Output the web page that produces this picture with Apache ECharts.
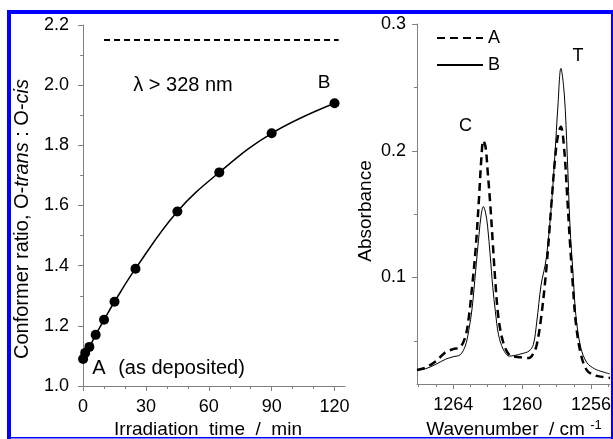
<!DOCTYPE html>
<html>
<head>
<meta charset="utf-8">
<script src="https://cdn.jsdelivr.net/npm/echarts@6/dist/echarts.min.js"></script>
<style>
  html, body { margin: 0; padding: 0; background: #fff; }
  #chart { width: 613px; height: 439px; }
</style>
</head>
<body>
<div id="chart"></div>
<script>
// ---- Left panel: conformer ratio vs. irradiation time ----
const irrTime = [0, 1, 3, 6, 10, 15, 25, 45, 65, 90, 120];
const ratio = [1.09, 1.11, 1.13, 1.17, 1.22, 1.28, 1.39, 1.58, 1.71, 1.84, 1.94];
const plateauRatio = 2.15;
const plateauTime = [10, 122];
const timeTicks = [0, 30, 60, 90, 120];
const timeMinorTicks = [10, 20, 40, 50, 70, 80, 100, 110];

// ---- Right panel: IR spectra, A (as deposited) and B (after irradiation) ----
const wavenumber = [1266.1, 1265.6, 1265.0, 1264.45, 1264.0, 1263.6, 1263.3, 1263.1, 1262.9, 1262.7,
  1262.5, 1262.37, 1262.25, 1262.12, 1262.0, 1261.85, 1261.7, 1261.55, 1261.37, 1261.1,
  1260.75, 1260.4, 1260.0, 1259.6, 1259.35, 1259.15, 1258.9, 1258.6, 1258.3, 1258.1,
  1257.92, 1257.75, 1257.55, 1257.38, 1257.22, 1257.05, 1256.88, 1256.6, 1256.25, 1255.8,
  1255.3, 1254.9];
const absA = [0.027, 0.029, 0.034, 0.041, 0.0435, 0.045, 0.053, 0.068, 0.093, 0.122,
  0.163, 0.193, 0.208, 0.203, 0.184, 0.158, 0.127, 0.096, 0.068, 0.049,
  0.039, 0.0375, 0.037, 0.0365, 0.040, 0.047, 0.068, 0.106, 0.158, 0.192,
  0.212, 0.219, 0.200, 0.163, 0.127, 0.093, 0.064, 0.040, 0.027, 0.023,
  0.0215, 0.0207];
const absB = [0.027, 0.028, 0.0316, 0.0355, 0.0375, 0.039, 0.046, 0.058, 0.076, 0.105,
  0.134, 0.150, 0.156, 0.151, 0.140, 0.117, 0.092, 0.073, 0.055, 0.0435,
  0.038, 0.0386, 0.040, 0.042, 0.047, 0.065, 0.094, 0.115, 0.157, 0.196,
  0.236, 0.265, 0.244, 0.196, 0.140, 0.104, 0.070, 0.045, 0.033, 0.028,
  0.0255, 0.024];
const wnTicks = [1264, 1260, 1256];
const wnMinorTicks = [1266, 1265, 1263, 1262, 1261, 1259, 1258, 1257, 1255];
const absTicks = [0.1, 0.2, 0.3];
const absMinorTicks = [0.05, 0.15, 0.25];

const FONT = '"Liberation Sans", Arial, sans-serif';
const AXIS_GRAY = '#808080';
const BLUE = '#0000ff';

const chart = echarts.init(document.getElementById('chart'), null, { renderer: 'canvas' });

const axisLineStyle = { show: true, lineStyle: { color: AXIS_GRAY, width: 1 } };
const labelStyle = { color: '#000', fontFamily: FONT, fontSize: 18 };

function minorAxis(base) {
  return Object.assign({
    axisLine: { show: false },
    axisLabel: { show: false },
    splitLine: { show: false }
  }, base);
}

const option = {
  animation: false,
  backgroundColor: '#fff',
  grid: [
    { left: 81, top: 25, width: 264, height: 361, outerBoundsMode: 'none', containLabel: false },
    { left: 417, top: 24, width: 193, height: 360, outerBoundsMode: 'none', containLabel: false }
  ],
  xAxis: [
    {
      gridIndex: 0, type: 'value', position: 'bottom', min: -1, max: 125,
      axisLine: axisLineStyle,
      axisTick: { show: true, customValues: timeTicks, length: 5, lineStyle: { color: AXIS_GRAY } },
      axisLabel: Object.assign({ customValues: timeTicks, margin: 12, formatter: v => String(v) }, labelStyle),
      splitLine: { show: false }
    },
    minorAxis({
      gridIndex: 0, type: 'value', position: 'bottom', min: -1, max: 125,
      axisTick: { show: true, customValues: timeMinorTicks, length: 3, lineStyle: { color: AXIS_GRAY } }
    }),
    {
      gridIndex: 1, type: 'value', position: 'bottom', inverse: true, min: 1254.9, max: 1266.1,
      axisLine: axisLineStyle,
      axisTick: { show: true, customValues: wnTicks, length: 5, lineStyle: { color: AXIS_GRAY } },
      axisLabel: Object.assign({ customValues: wnTicks, margin: 12, formatter: v => String(v) }, labelStyle),
      splitLine: { show: false }
    },
    minorAxis({
      gridIndex: 1, type: 'value', position: 'bottom', inverse: true, min: 1254.9, max: 1266.1,
      axisTick: { show: true, customValues: wnMinorTicks, length: 3, lineStyle: { color: AXIS_GRAY } }
    })
  ],
  yAxis: [
    {
      gridIndex: 0, type: 'value', position: 'left', min: 1.0, max: 2.2, interval: 0.2,
      axisLine: axisLineStyle,
      axisTick: { show: true, length: 5, lineStyle: { color: AXIS_GRAY } },
      minorTick: { show: true, splitNumber: 2, length: 3, lineStyle: { color: AXIS_GRAY } },
      axisLabel: Object.assign({ margin: 12, formatter: v => v.toFixed(1) }, labelStyle),
      splitLine: { show: false }
    },
    {
      gridIndex: 1, type: 'value', position: 'left', min: 0.016, max: 0.3,
      axisLine: axisLineStyle,
      axisTick: { show: true, customValues: absTicks, length: 5, lineStyle: { color: AXIS_GRAY } },
      axisLabel: Object.assign({ customValues: absTicks, margin: 11, formatter: v => v.toFixed(1) }, labelStyle),
      splitLine: { show: false }
    },
    minorAxis({
      gridIndex: 1, type: 'value', position: 'left', min: 0.016, max: 0.3,
      axisTick: { show: true, customValues: absMinorTicks, length: 3, lineStyle: { color: AXIS_GRAY } }
    })
  ],
  legend: {
    data: ['A', 'B'],
    orient: 'vertical',
    left: 436, top: 29,
    padding: 0,
    itemWidth: 46, itemHeight: 14, itemGap: 9,
    itemStyle: { opacity: 0 },
    textStyle: { color: '#000', fontFamily: FONT, fontSize: 18 },
    selectedMode: false
  },
  series: [
    {
      name: 'ratio', type: 'line', xAxisIndex: 0, yAxisIndex: 0,
      data: irrTime.map((t, i) => [t, ratio[i]]),
      smooth: 0.4,
      symbol: 'circle', symbolSize: 10,
      itemStyle: { color: '#000' },
      lineStyle: { color: '#000', width: 1.5 },
      z: 3
    },
    {
      name: 'plateau', type: 'line', xAxisIndex: 0, yAxisIndex: 0,
      data: plateauTime.map(t => [t, plateauRatio]),
      symbol: 'none',
      lineStyle: { color: '#000', width: 2, type: [6, 4] }
    },
    {
      name: 'A', type: 'line', xAxisIndex: 2, yAxisIndex: 1,
      data: wavenumber.map((w, i) => [w, absA[i]]),
      smooth: 0.35, symbol: 'none',
      itemStyle: { color: '#000' },
      lineStyle: { color: '#000', width: 2.5, type: [8, 5] }
    },
    {
      name: 'B', type: 'line', xAxisIndex: 2, yAxisIndex: 1,
      data: wavenumber.map((w, i) => [w, absB[i]]),
      smooth: 0.35, symbol: 'none',
      itemStyle: { color: '#000' },
      lineStyle: { color: '#000', width: 1 }
    }
  ],
  graphic: [
    // annotations
    { type: 'text', x: 183, y: 85, silent: true,
      style: { text: 'λ > 328 nm', fill: '#000', font: '20px ' + FONT, align: 'center', verticalAlign: 'middle' } },
    { type: 'text', x: 324, y: 83, silent: true,
      style: { text: 'B', fill: '#000', font: '19px ' + FONT, align: 'center', verticalAlign: 'middle' } },
    { type: 'text', x: 99, y: 368, silent: true,
      style: { text: 'A', fill: '#000', font: '20px ' + FONT, align: 'center', verticalAlign: 'middle' } },
    { type: 'text', x: 181.5, y: 368, silent: true,
      style: { text: '(as deposited)', fill: '#000', font: '20px ' + FONT, align: 'center', verticalAlign: 'middle' } },
    { type: 'text', x: 465.5, y: 126.5, silent: true,
      style: { text: 'C', fill: '#000', font: '18px ' + FONT, align: 'center', verticalAlign: 'middle' } },
    { type: 'text', x: 578, y: 56.5, silent: true,
      style: { text: 'T', fill: '#000', font: '18px ' + FONT, align: 'center', verticalAlign: 'middle' } },
    // axis titles
    { type: 'text', x: 22.5, y: 219, rotation: Math.PI / 2, silent: true,
      style: {
        text: '{n|Conformer ratio, O-}{i|trans}{n| : O-}{i|cis}',
        align: 'center', verticalAlign: 'middle',
        rich: {
          n: { fill: '#000', fontFamily: FONT, fontSize: 20 },
          i: { fill: '#000', fontFamily: FONT, fontSize: 20, fontStyle: 'italic' }
        }
      } },
    { type: 'text', x: 366, y: 211, rotation: Math.PI / 2, silent: true,
      style: { text: 'Absorbance', fill: '#000', font: '19px ' + FONT, align: 'center', verticalAlign: 'middle' } },
    { type: 'text', x: 208, y: 430, silent: true,
      style: { text: 'Irradiation  time  /  min', fill: '#000', font: '19px ' + FONT, align: 'center', verticalAlign: 'middle' } },
    { type: 'text', x: 514, y: 430, silent: true,
      style: {
        text: '{n|Wavenumber  / cm }{s|-1}',
        align: 'center', verticalAlign: 'middle',
        rich: {
          n: { fill: '#000', fontFamily: FONT, fontSize: 19 },
          s: { fill: '#000', fontFamily: FONT, fontSize: 13, padding: [0, 0, 10, 0] }
        }
      } },
    // blue frame
    { type: 'rect', z: 100, silent: true, shape: { x: 7, y: 10, width: 4, height: 429 }, style: { fill: BLUE } },
    { type: 'rect', z: 100, silent: true, shape: { x: 7, y: 10, width: 606, height: 4 }, style: { fill: BLUE } },
    { type: 'rect', z: 100, silent: true, shape: { x: 611, y: 10, width: 2, height: 429 }, style: { fill: BLUE } },
    { type: 'rect', z: 100, silent: true, shape: { x: 7, y: 437, width: 606, height: 1.5 }, style: { fill: BLUE } }
  ]
};

chart.setOption(option);
</script>
</body>
</html>
